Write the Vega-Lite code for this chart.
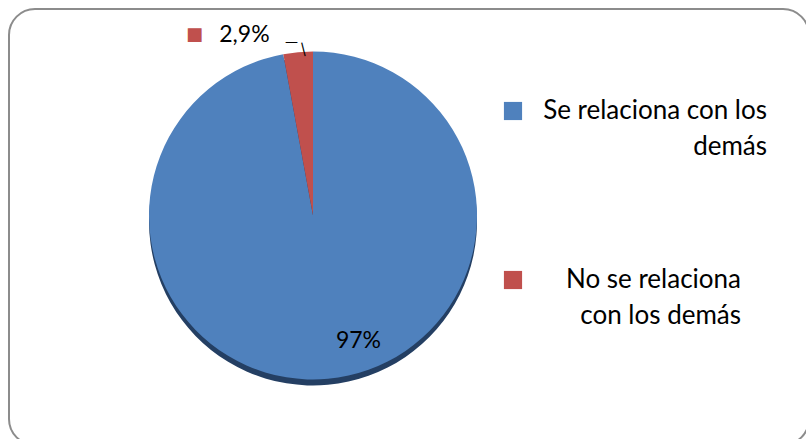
{
  "$schema": "https://vega.github.io/schema/vega-lite/v6.json",
  "autosize": "none",
  "width": 800,
  "height": 436,
  "padding": {"left": 9, "top": 9, "right": 0, "bottom": 0},
  "background": "white",
  "view": {"stroke": "#8c8c8c", "strokeWidth": 2, "cornerRadius": 26, "fill": "white"},
  "config": {
    "view": {"stroke": "#8c8c8c", "strokeWidth": 2, "cornerRadius": 26},
    "font": "Lato"
  },
  "data": {
    "values": [
      {"categoria": "Se relaciona con los demás", "valor": 97.1, "etiqueta": "97%"},
      {"categoria": "No se relaciona con los demás", "valor": 2.9, "etiqueta": "2,9%"}
    ]
  },
  "encoding": {
    "theta": {"field": "valor", "type": "quantitative", "stack": true},
    "order": {"field": "valor", "sort": "descending"}
  },
  "layer": [
    {
      "mark": {"type": "arc", "radius": 164, "x": {"expr": "width*0.38"}, "y": {"expr": "height*0.4736 + 6"}, "fill": "#243f63"}
    },
    {
      "mark": {"type": "arc", "radius": 164, "x": {"expr": "width*0.38"}, "y": {"expr": "height*0.4736"}},
      "encoding": {
        "color": {
          "field": "categoria",
          "type": "nominal",
          "scale": {"domain": ["Se relaciona con los demás", "No se relaciona con los demás"], "range": ["#4f81bd", "#c0504d"]},
          "legend": {
            "orient": "none",
            "legendX": 491,
            "legendY": 89,
            "title": null,
            "symbolType": "square",
            "symbolSize": 330,
            "symbolStrokeWidth": 0,
            "labelFont": "Lato",
            "labelFontSize": 26,
            "labelColor": "#000000",
            "labelLimit": 400,
            "labelOffset": 10,
            "rowPadding": 107,
            "labelAlign": "right",
            "labelExpr": "datum.label == 'Se relaciona con los demás' ? ['Se relaciona con los', 'demás'] : ['No se relaciona', 'con los demás']",
            "encode": {"labels": {"update": {"lineHeight": {"value": 36}, "dx": {"signal": "datum.value == 'Se relaciona con los demás' ? 231 : 205"}}}}
          }
        }
      }
    },
    {
      "mark": {
        "type": "text",
        "font": "Lato",
        "fontSize": 23,
        "color": "#000000",
        "align": "center",
        "baseline": "middle",
        "x": {"expr": "width*0.38"},
        "y": {"expr": "height*0.4736"},
        "radius": {"expr": "datum.valor > 50 ? 126 : 182"},
        "dx": {"expr": "datum.valor > 50 ? 34 : -52"},
        "dy": {"expr": "datum.valor > 50 ? 0 : 1"}
      },
      "encoding": {"text": {"field": "etiqueta"}}
    },
    {
      "mark": {
        "type": "text",
        "font": "DejaVu Sans",
        "fontSize": 18,
        "align": "center",
        "baseline": "middle",
        "x": {"expr": "width*0.38"},
        "y": {"expr": "height*0.4736"},
        "radius": {"expr": "datum.valor > 50 ? 126 : 182"},
        "dx": {"expr": "datum.valor > 50 ? -12 : -102"},
        "dy": {"expr": "datum.valor > 50 ? 0 : 1"}
      },
      "encoding": {
        "text": {"value": "■"},
        "color": {
          "field": "categoria",
          "type": "nominal",
          "scale": {"domain": ["Se relaciona con los demás", "No se relaciona con los demás"], "range": ["#5a8ac6", "#c0504d"]},
          "legend": null
        }
      }
    },
    {
      "mark": {
        "type": "text",
        "font": "DejaVu Sans",
        "fontSize": 13,
        "color": "#000000",
        "align": "center",
        "baseline": "middle",
        "x": {"expr": "width*0.38"},
        "y": {"expr": "height*0.4736"},
        "radius": 182,
        "dx": -5,
        "dy": 8
      },
      "encoding": {
        "text": {"condition": {"test": "datum.valor < 50", "value": "—"}, "value": ""}
      }
    },
    {
      "mark": {
        "type": "text",
        "font": "DejaVu Sans",
        "fontSize": 14,
        "color": "#000000",
        "align": "center",
        "baseline": "middle",
        "angle": -14,
        "x": {"expr": "width*0.38"},
        "y": {"expr": "height*0.4736"},
        "radius": 182,
        "dx": 3,
        "dy": 16
      },
      "encoding": {
        "text": {"condition": {"test": "datum.valor < 50", "value": "|"}, "value": ""}
      }
    }
  ]
}
